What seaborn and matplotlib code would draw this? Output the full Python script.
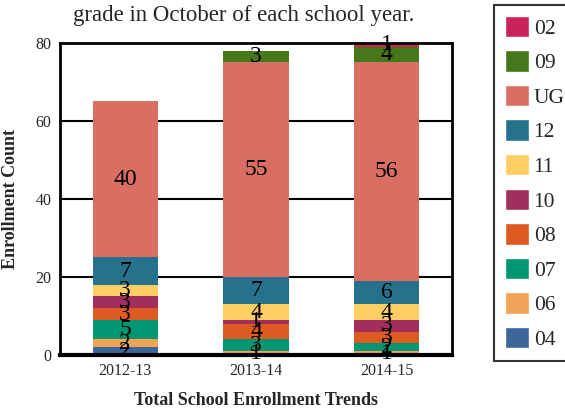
import numpy as np
import pandas as pd
import matplotlib
matplotlib.use("Agg")
import matplotlib.pyplot as plt
from matplotlib.patches import Patch
import seaborn as sns

# ==================================================
# DATA
# ==================================================

years = ["2012-13", "2013-14", "2014-15"]

# stacking order, bottom to top
grades = ["04", "06", "07", "08", "10", "11", "12", "UG", "09", "02"]

g04 = [2, 0, 0]
g06 = [2, 1, 1]
g07 = [5, 3, 2]
g08 = [3, 4, 3]
g10 = [3, 1, 3]
g11 = [3, 4, 4]
g12 = [7, 7, 6]
gUG = [40, 55, 56]
g09 = [0, 3, 4]
g02 = [0, 0, 1]

colors = ["#3d6699", "#f0a457", "#009672", "#de5a20", "#a02f5e",
          "#fdce62", "#26728c", "#d96f63", "#46771a", "#c9235a"]

counts = pd.DataFrame(
    [g04, g06, g07, g08, g10, g11, g12, gUG, g09, g02],
    index=grades,
    columns=years
)

# ==================================================
# STYLE
# ==================================================

sns.set_style("white")
plt.rcParams["font.family"] = ["Liberation Serif", "DejaVu Serif"]

fig = plt.figure(figsize=(5.65, 4.09), dpi=100)
ax = fig.add_axes([0.106, 0.132, 0.694, 0.763])

# ==================================================
# STACKED BARS (draw tallest cumulative first)
# ==================================================

cum = counts.cumsum()

for i in range(len(grades) - 1, -1, -1):
    layer = pd.DataFrame({
        "year": years,
        "total": cum.iloc[i].values
    })
    sns.barplot(
        data=layer,
        x="year",
        y="total",
        color=colors[i],
        saturation=1,
        width=0.5,
        linewidth=0,
        ax=ax,
        zorder=2
    )

# segment labels
for i, g in enumerate(grades):
    for j, yr in enumerate(years):
        v = counts.loc[g, yr]
        if v > 0:
            mid = cum.loc[g, yr] - v / 2
            ax.text(j, mid, str(v), ha="center", va="center",
                    fontsize=17, color="black", zorder=3)

# ==================================================
# AXES
# ==================================================

ax.set_xlim(-0.5, 2.5)
ax.set_ylim(0, 80)
ax.set_yticks([0, 20, 40, 60, 80])
for y in [20, 40, 60]:
    ax.axhline(y, color="black", linewidth=1.5, zorder=1)

for side in ["left", "top", "right"]:
    ax.spines[side].set_color("black")
    ax.spines[side].set_linewidth(2)
ax.spines["bottom"].set_color("black")
ax.spines["bottom"].set_linewidth(3)

ax.tick_params(axis="both", length=0, labelsize=11.5, pad=6)
ax.set_xlabel("Total School Enrollment Trends", fontsize=13,
              fontweight="bold", labelpad=9)
ax.set_ylabel("Enrollment Count", fontsize=13,
              fontweight="bold", labelpad=12)

fig.text(0.432, 0.963, "grade in October of each school year.",
         ha="center", va="center", fontsize=16.5)

# ==================================================
# LEGEND
# ==================================================

handles = [Patch(facecolor=colors[i], label=grades[i])
           for i in range(len(grades) - 1, -1, -1)]
leg = fig.legend(
    handles=handles,
    loc="upper left",
    bbox_to_anchor=(0.874, 0.988),
    frameon=True,
    fancybox=False,
    fontsize=15.5,
    handlelength=1.15,
    handleheight=1.15,
    handletextpad=0.2,
    labelspacing=0.54,
    borderpad=0.5,
    borderaxespad=0
)
leg.get_frame().set_edgecolor("black")
leg.get_frame().set_linewidth(1.5)

plt.savefig("out.png", dpi=100)
plt.close()
